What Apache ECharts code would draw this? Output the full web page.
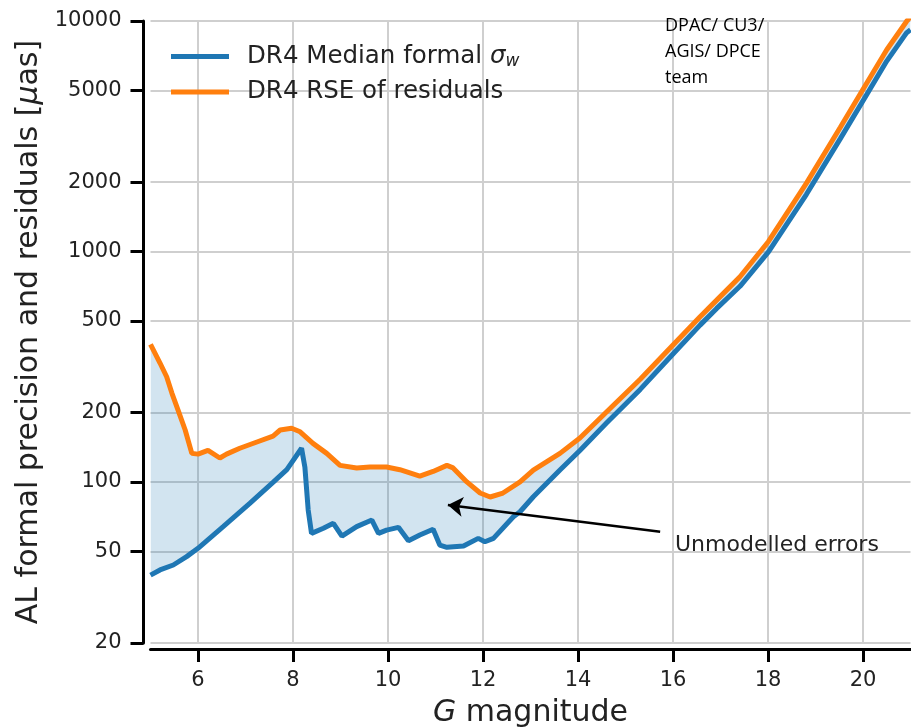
<!DOCTYPE html>
<html>
<head>
<meta charset="utf-8">
<title>AL formal precision and residuals</title>
<script src="https://cdn.jsdelivr.net/npm/echarts@6/dist/echarts.min.js"></script>
<style>
  html, body { margin: 0; padding: 0; background: #fff; }
  #chart { width: 911px; height: 727px; }
</style>
</head>
<body>
<div id="chart"></div>
<script>
// values (G magnitude vs micro-arcsec)
var medianG = [5.0, 5.2, 5.48, 5.76, 6.0, 6.53, 7.09, 7.59, 7.87, 8.18, 8.25, 8.32, 8.39, 8.64, 8.85, 9.03, 9.34, 9.66, 9.8, 9.97, 10.22, 10.43, 10.67, 10.95, 11.09, 11.24, 11.59, 11.9, 12.04, 12.22, 12.64, 12.78, 13.06, 13.62, 14.04, 14.6, 15.31, 16.01, 16.57, 16.92, 17.41, 18.01, 18.81, 19.52, 20.08, 20.5, 20.92, 21.0];
var medianSigma = [39.4, 41.5, 43.6, 47.4, 51.5, 64, 80.7, 100, 113, 140, 116, 75.5, 59.8, 62.9, 66.1, 58.2, 64, 68.3, 59.8, 61.8, 63.5, 55.6, 58.8, 62.3, 53.2, 52, 52.7, 56.9, 55, 56.9, 70.6, 74.2, 86.2, 112.6, 137, 180, 252, 361, 479, 566, 706, 995, 1770, 3080, 4800, 6700, 8900, 9150];

var rseG = [5.0, 5.2, 5.34, 5.45, 5.58, 5.73, 5.87, 6.0, 6.21, 6.46, 6.6, 6.88, 7.24, 7.58, 7.73, 7.97, 8.15, 8.42, 8.71, 8.99, 9.34, 9.62, 9.97, 10.25, 10.67, 10.95, 11.24, 11.37, 11.66, 11.94, 12.15, 12.42, 12.78, 13.06, 13.62, 14.04, 14.6, 15.31, 16.01, 16.57, 16.92, 17.41, 18.01, 18.81, 19.52, 20.08, 20.5, 20.92, 21.0];
var rseResiduals = [395, 328, 286, 243, 205, 168, 133, 132, 137, 127, 132, 140, 149, 158, 168, 171, 165, 147, 133, 118, 115, 116, 116, 113, 106, 111, 118, 115, 100, 89.5, 86, 89.5, 100, 112.6, 133, 155, 201, 279, 395, 521, 615, 777, 1105, 1980, 3450, 5380, 7500, 9980, 10450];

var xTicks = [6, 8, 10, 12, 14, 16, 18, 20];
var yTicks = [20, 50, 100, 200, 500, 1000, 2000, 5000, 10000];

// annotation arrow, tail -> head, in data units
var arrowTail = [15.73, 60.8];
var arrowHead = [11.26, 79.4];

var BLUE = '#1f77b4';
var ORANGE = '#ff7f0e';
var FONT = 'DejaVu Sans';
var TXT = '#222';

function pairs(xs, ys) {
    return xs.map(function (x, i) { return [x, ys[i]]; });
}

var chart = echarts.init(document.getElementById('chart'));

chart.setOption({
    animation: false,
    grid: { left: 150.5, right: 0.5, top: 21, bottom: 84, outerBoundsMode: 'none' },
    legend: {
        left: 166,
        top: 39,
        orient: 'vertical',
        itemWidth: 58,
        itemHeight: 5,
        itemGap: 9,
        data: [
            { name: 'median', icon: 'rect' },
            { name: 'rse', icon: 'rect' }
        ],
        formatter: function (name) {
            if (name === 'median') return '{t|DR4 Median formal }{i|σ}{s|w}';
            return '{t|DR4 RSE of residuals}';
        },
        textStyle: {
            padding: [0, 0, 0, 13],
            rich: {
                t: { fontFamily: FONT, fontSize: 24.5, color: TXT, lineHeight: 28 },
                i: { fontFamily: FONT, fontSize: 24.5, fontStyle: 'italic', color: TXT, lineHeight: 28 },
                s: { fontFamily: FONT, fontSize: 17, fontStyle: 'italic', color: TXT, lineHeight: 14, verticalAlign: 'bottom' }
            }
        }
    },
    xAxis: {
        type: 'value',
        min: 5,
        max: 21,
        offset: 6,
        name: '{i|G} magnitude',
        nameLocation: 'middle',
        nameGap: 49,
        nameTextStyle: {
            fontFamily: FONT, fontSize: 30, color: TXT,
            rich: { i: { fontFamily: FONT, fontSize: 30, fontStyle: 'italic', color: TXT } }
        },
        axisLine: { lineStyle: { color: '#000', width: 3 } },
        axisTick: { customValues: xTicks, length: 13, lineStyle: { color: '#000', width: 3 } },
        axisLabel: { customValues: xTicks, margin: 21, fontFamily: FONT, fontSize: 21, color: TXT },
        splitLine: { show: true, lineStyle: { color: '#cfcfcf', width: 2 } }
    },
    yAxis: {
        type: 'log',
        logBase: 10,
        min: 20,
        max: 10000,
        offset: 7,
        name: 'AL formal precision and residuals [{i|μ}as]',
        nameLocation: 'middle',
        nameRotate: 90,
        nameGap: 92,
        nameTextStyle: {
            fontFamily: FONT, fontSize: 30, color: TXT,
            rich: { i: { fontFamily: FONT, fontSize: 30, fontStyle: 'italic', color: TXT } }
        },
        axisLine: { show: true, lineStyle: { color: '#000', width: 3 } },
        axisTick: { show: true, customValues: yTicks, length: 13, lineStyle: { color: '#000', width: 3 } },
        axisLabel: {
            customValues: yTicks,
            margin: 22,
            fontFamily: FONT,
            fontSize: 21,
            color: TXT,
            formatter: function (v) { return String(Math.round(v)); }
        },
        splitLine: { show: true, lineStyle: { color: '#cfcfcf', width: 2 } },
        minorTick: { show: false }
    },
    graphic: [
        {
            type: 'text',
            left: 675,
            top: 534,
            z: 100,
            style: { text: 'Unmodelled errors', fontFamily: FONT, fontSize: 22, fill: TXT }
        },
        {
            type: 'text',
            left: 665,
            top: 13,
            z: 100,
            style: {
                text: 'DPAC/ CU3/\nAGIS/ DPCE\nteam',
                fontFamily: 'Open Sans', fontSize: 18, lineHeight: 26, fill: '#000'
            }
        }
    ],
    series: [
        {
            // shaded band between the two curves
            type: 'custom',
            name: 'gap',
            silent: true,
            z: 1,
            data: [[medianG[0], medianSigma[0]]],
            renderItem: function (params, api) {
                var pts = [];
                medianG.forEach(function (g, i) {
                    pts.push(api.coord([g, medianSigma[i]]));
                });
                for (var i = rseG.length - 1; i >= 0; i--) {
                    pts.push(api.coord([rseG[i], rseResiduals[i]]));
                }
                var cs = params.coordSys;
                return {
                    type: 'polygon',
                    shape: { points: pts },
                    style: { fill: 'rgba(31,119,180,0.2)', stroke: null },
                    clipPath: { type: 'rect', shape: { x: cs.x, y: cs.y, width: cs.width, height: cs.height } }
                };
            }
        },
        {
            type: 'line',
            name: 'median',
            z: 3,
            data: pairs(medianG, medianSigma),
            symbol: 'none',
            color: BLUE,
            lineStyle: { color: BLUE, width: 5 }
        },
        {
            type: 'line',
            name: 'rse',
            z: 4,
            data: pairs(rseG, rseResiduals),
            symbol: 'none',
            color: ORANGE,
            lineStyle: { color: ORANGE, width: 5 },
            markLine: {
                silent: true,
                symbol: ['none', 'arrow'],
                symbolSize: 15,
                label: { show: false },
                lineStyle: { color: '#000', width: 2.5, type: 'solid' },
                data: [[{ coord: arrowTail }, { coord: arrowHead }]]
            }
        }
    ]
});

window.addEventListener('resize', function () {
    chart.resize();
});
</script>
</body>
</html>
